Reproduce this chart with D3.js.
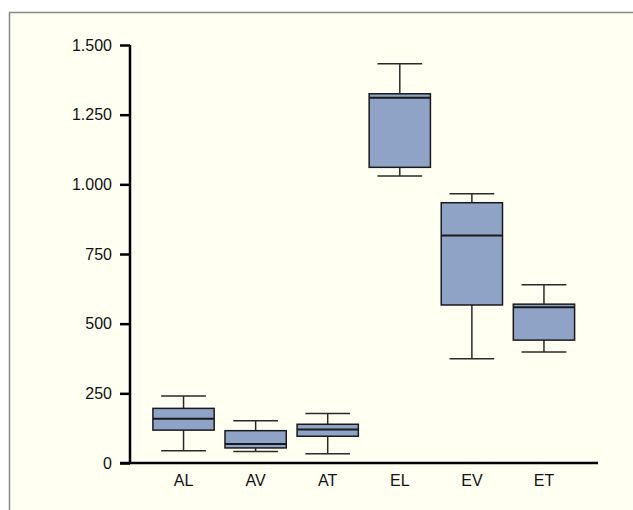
<!DOCTYPE html>
<html><head><meta charset="utf-8">
<script src="https://cdn.jsdelivr.net/npm/d3@7"></script>
<style>html,body{margin:0;padding:0;background:#fff;}svg{display:block;}</style>
</head><body>
<svg id="c" width="633" height="510"></svg>
<script>
const categories = ["AL","AV","AT","EL","EV","ET"];
const whiskerLow  = [44, 41, 33, 1030, 374, 398];
const q1          = [118, 54, 96, 1061, 567, 441];
const medians     = [159, 68, 120, 1311, 816, 559];
const q3          = [196, 116, 139, 1325, 934, 570];
const whiskerHigh = [240, 152, 178, 1433, 966, 640];
const tickValues  = [0, 250, 500, 750, 1000, 1250, 1500];
const tickLabels  = ["0", "250", "500", "750", "1.000", "1.250", "1.500"];

const svg = d3.select("#c");
svg.append("rect").attr("x", 9.5).attr("y", 12.5).attr("width", 640).attr("height", 520)
  .attr("fill", "#fffff2").attr("stroke", "#888").attr("stroke-width", 1.5);

const y = d3.scaleLinear().domain([0, 1500]).range([463, 45]);
const x = d3.scaleBand().domain(categories).range([147.5, 580]).paddingInner(0.15).paddingOuter(0.075);
const bw = x.bandwidth();
const capW = bw * 0.73;
const font = "'Liberation Sans', Arial, Helvetica, sans-serif";

const data = categories.map((c, i) => ({c, lo: whiskerLow[i], q1: q1[i], med: medians[i], q3: q3[i], hi: whiskerHigh[i]}));
const g = svg.append("g");
data.forEach(d => {
  const cx = x(d.c) + bw / 2;
  const s = g.append("g").attr("stroke", "#2a2a2a").attr("stroke-width", 1.5);
  s.append("line").attr("x1", cx).attr("x2", cx).attr("y1", y(d.hi)).attr("y2", y(d.q3));
  s.append("line").attr("x1", cx).attr("x2", cx).attr("y1", y(d.q1)).attr("y2", y(d.lo));
  s.append("line").attr("x1", cx - capW/2).attr("x2", cx + capW/2).attr("y1", y(d.hi)).attr("y2", y(d.hi));
  s.append("line").attr("x1", cx - capW/2).attr("x2", cx + capW/2).attr("y1", y(d.lo)).attr("y2", y(d.lo));
  s.append("rect").attr("x", x(d.c)).attr("y", y(d.q3)).attr("width", bw).attr("height", y(d.q1) - y(d.q3))
    .attr("fill", "#8fa3c7").attr("stroke", "#1a1a1a");
  s.append("line").attr("x1", x(d.c)).attr("x2", x(d.c) + bw).attr("y1", y(d.med)).attr("y2", y(d.med))
    .attr("stroke", "#1a1a1a").attr("stroke-width", 2);
});

// Y axis
const yAxis = d3.axisLeft(y).tickValues(tickValues).tickFormat((d, i) => tickLabels[i]).tickSize(10).tickPadding(8);
const ya = svg.append("g").attr("transform", "translate(130,0)").call(yAxis);
ya.select(".domain").attr("d", `M0,${y(1500)}V${y(0)}`).attr("stroke", "#000").attr("stroke-width", 2.5);
ya.selectAll(".tick line").attr("stroke", "#000").attr("stroke-width", 2.5);
ya.selectAll(".tick text").attr("font-family", font).attr("font-size", 16).attr("fill", "#111");

// X axis
const xAxis = d3.axisBottom(x).tickSize(0).tickPadding(12);
const xa = svg.append("g").attr("transform", `translate(0,${y(0)})`).call(xAxis);
xa.select(".domain").attr("d", "M120,0H598").attr("stroke", "#000").attr("stroke-width", 2.5);
xa.selectAll(".tick text").attr("font-family", font).attr("font-size", 16).attr("fill", "#111");
</script>
</body></html>
